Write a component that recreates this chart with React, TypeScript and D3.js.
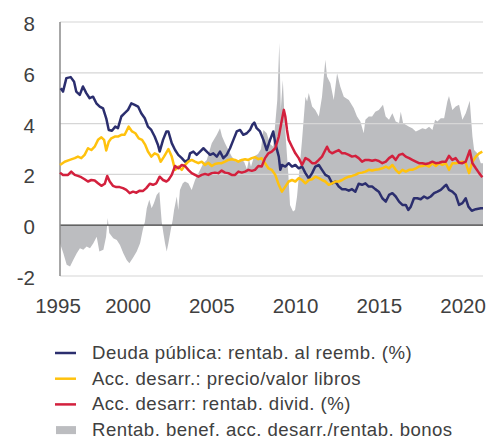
import React from 'react';
import * as d3 from 'd3';

// [year, value]
const deudaPublica: [number, number][] = [
  [1995.98, 5.39], [1996.12, 5.26], [1996.32, 5.79], [1996.58, 5.83], [1996.78, 5.65], [1996.91, 5.26],
  [1997.12, 5.13], [1997.31, 5.46], [1997.51, 5.2], [1997.71, 5.0], [1997.91, 5.06], [1998.11, 4.8],
  [1998.31, 4.67], [1998.51, 4.6], [1998.7, 4.21], [1998.85, 3.75], [1999.04, 3.72], [1999.24, 3.88],
  [1999.4, 3.82], [1999.6, 4.28], [1999.8, 4.41], [2000.0, 4.54], [2000.2, 4.8], [2000.4, 4.74],
  [2000.6, 4.67], [2000.79, 4.41], [2001.0, 4.21], [2001.19, 3.88], [2001.39, 3.75], [2001.59, 3.49],
  [2001.79, 3.16], [2001.89, 2.9], [2002.09, 3.36], [2002.29, 3.69], [2002.41, 3.69], [2002.61, 3.23],
  [2002.81, 2.96], [2003.0, 2.77], [2003.21, 2.64], [2003.4, 2.5], [2003.6, 2.57], [2003.7, 2.83],
  [2003.9, 2.9], [2004.1, 2.77], [2004.3, 2.9], [2004.5, 3.03], [2004.7, 2.9], [2004.9, 2.77],
  [2005.09, 2.83], [2005.3, 2.7], [2005.49, 2.9], [2005.69, 2.64], [2005.89, 2.77], [2006.09, 3.03],
  [2006.29, 3.36], [2006.49, 3.69], [2006.69, 3.75], [2006.88, 3.56], [2007.09, 3.62], [2007.28, 3.75],
  [2007.42, 3.95], [2007.54, 4.04], [2007.68, 3.82], [2007.88, 3.69], [2008.08, 3.36], [2008.28, 2.96],
  [2008.48, 3.36], [2008.67, 3.69], [2008.79, 3.23], [2009.0, 2.7], [2009.09, 2.18], [2009.19, 2.37],
  [2009.39, 2.31], [2009.59, 2.44], [2009.79, 2.31], [2009.99, 2.37], [2010.19, 2.24], [2010.39, 2.31],
  [2010.59, 2.05], [2010.79, 1.85], [2010.99, 2.05], [2011.18, 2.31], [2011.39, 2.37], [2011.58, 2.18],
  [2011.78, 1.98], [2011.98, 1.91], [2012.18, 1.65], [2012.38, 1.72], [2012.58, 1.52], [2012.78, 1.42],
  [2012.97, 1.42], [2013.18, 1.36], [2013.37, 1.42], [2013.57, 1.32], [2013.77, 1.63], [2013.97, 1.59],
  [2014.17, 1.65], [2014.37, 1.52], [2014.57, 1.52], [2014.76, 1.42], [2014.97, 1.32], [2015.18, 1.06],
  [2015.39, 0.93], [2015.58, 1.19], [2015.78, 1.26], [2015.98, 1.13], [2016.18, 0.93], [2016.38, 0.8],
  [2016.58, 0.8], [2016.73, 0.6], [2016.88, 0.73], [2017.07, 1.06], [2017.27, 1.06], [2017.47, 1.02],
  [2017.67, 1.13], [2017.87, 1.06], [2018.07, 1.13], [2018.27, 1.26], [2018.47, 1.32], [2018.67, 1.39],
  [2018.87, 1.52], [2019.0, 1.59], [2019.16, 1.39], [2019.36, 1.32], [2019.56, 1.19], [2019.76, 0.8],
  [2019.96, 0.87], [2020.16, 1.06], [2020.32, 0.73], [2020.52, 0.57], [2020.76, 0.63], [2021.06, 0.67],
  [2021.19, 0.67],
];

const precioValorLibros: [number, number][] = [
  [1995.94, 2.37], [1996.22, 2.5], [1996.52, 2.57], [1996.82, 2.64], [1997.01, 2.7], [1997.21, 2.64],
  [1997.41, 2.77], [1997.61, 3.03], [1997.81, 2.96], [1998.01, 3.09], [1998.21, 3.36], [1998.41, 3.46],
  [1998.57, 3.36], [1998.7, 2.94], [1998.85, 3.29], [1999.0, 3.42], [1999.21, 3.49], [1999.4, 3.49],
  [1999.6, 3.56], [1999.8, 3.56], [2000.04, 3.88], [2000.24, 3.69], [2000.44, 3.62], [2000.64, 3.42],
  [2000.84, 3.36], [2001.03, 3.16], [2001.19, 2.9], [2001.39, 2.7], [2001.59, 2.83], [2001.79, 2.77],
  [2001.95, 2.5], [2002.15, 2.7], [2002.28, 2.85], [2002.41, 3.0], [2002.61, 2.7], [2002.81, 2.18],
  [2003.0, 2.31], [2003.21, 2.18], [2003.4, 2.37], [2003.6, 2.5], [2003.8, 2.57], [2004.0, 2.5],
  [2004.2, 2.44], [2004.4, 2.5], [2004.6, 2.37], [2004.79, 2.46], [2005.0, 2.33], [2005.19, 2.41],
  [2005.39, 2.44], [2005.59, 2.44], [2005.79, 2.5], [2005.99, 2.57], [2006.19, 2.6], [2006.39, 2.57],
  [2006.59, 2.5], [2006.79, 2.57], [2006.99, 2.6], [2007.18, 2.57], [2007.39, 2.64], [2007.58, 2.68],
  [2007.78, 2.6], [2007.98, 2.64], [2008.18, 2.44], [2008.38, 2.24], [2008.58, 2.18], [2008.79, 1.98],
  [2009.0, 1.59], [2009.19, 1.32], [2009.39, 1.52], [2009.59, 1.72], [2009.79, 1.78], [2009.99, 1.72],
  [2010.19, 1.85], [2010.39, 1.78], [2010.59, 1.65], [2010.79, 1.78], [2010.99, 1.81], [2011.18, 1.91],
  [2011.39, 1.85], [2011.58, 1.78], [2011.78, 1.72], [2011.98, 1.59], [2012.18, 1.65], [2012.38, 1.72],
  [2012.58, 1.72], [2012.78, 1.78], [2012.97, 1.85], [2013.18, 1.91], [2013.37, 1.94], [2013.57, 1.98],
  [2013.77, 2.05], [2013.97, 2.07], [2014.17, 2.11], [2014.37, 2.18], [2014.57, 2.15], [2014.76, 2.18],
  [2014.97, 2.2], [2015.18, 2.24], [2015.39, 2.31], [2015.58, 2.24], [2015.78, 2.37], [2015.98, 2.18],
  [2016.18, 2.05], [2016.38, 2.18], [2016.58, 2.11], [2016.78, 2.18], [2016.97, 2.18], [2017.18, 2.24],
  [2017.37, 2.31], [2017.57, 2.33], [2017.77, 2.37], [2017.97, 2.31], [2018.17, 2.44], [2018.37, 2.33],
  [2018.57, 2.44], [2018.76, 2.37], [2018.97, 2.44], [2019.16, 2.18], [2019.36, 2.44], [2019.56, 2.44],
  [2019.76, 2.46], [2019.96, 2.5], [2020.16, 2.44], [2020.36, 2.05], [2020.56, 2.5], [2020.76, 2.7],
  [2020.96, 2.83], [2021.15, 2.9],
];

const rentabDivid: [number, number][] = [
  [1995.94, 2.07], [1996.12, 1.98], [1996.42, 1.98], [1996.61, 2.11], [1996.82, 1.98], [1997.01, 1.94],
  [1997.21, 1.89], [1997.41, 1.81], [1997.61, 1.72], [1997.81, 1.78], [1998.01, 1.76], [1998.21, 1.65],
  [1998.41, 1.55], [1998.61, 1.63], [1998.76, 1.94], [1998.91, 1.72], [1999.1, 1.55], [1999.3, 1.5],
  [1999.5, 1.5], [1999.7, 1.46], [1999.9, 1.39], [2000.1, 1.26], [2000.3, 1.32], [2000.5, 1.28],
  [2000.7, 1.36], [2000.9, 1.35], [2001.09, 1.46], [2001.3, 1.63], [2001.49, 1.59], [2001.69, 1.65],
  [2001.89, 1.91], [2002.09, 1.78], [2002.29, 1.72], [2002.41, 1.78], [2002.61, 1.98], [2002.81, 2.33],
  [2003.0, 2.24], [2003.21, 2.37], [2003.4, 2.33], [2003.6, 2.18], [2003.8, 2.05], [2004.0, 1.98],
  [2004.2, 1.91], [2004.4, 1.98], [2004.6, 2.02], [2004.79, 1.98], [2005.0, 2.05], [2005.19, 2.07],
  [2005.39, 2.05], [2005.59, 2.15], [2005.79, 2.07], [2005.99, 2.05], [2006.19, 1.98], [2006.39, 1.98],
  [2006.59, 2.11], [2006.79, 2.07], [2006.99, 2.11], [2007.18, 2.18], [2007.39, 2.14], [2007.58, 2.18],
  [2007.78, 2.33], [2007.98, 2.31], [2008.18, 2.64], [2008.38, 2.83], [2008.58, 2.9], [2008.79, 3.03],
  [2009.0, 3.49], [2009.15, 4.02], [2009.3, 4.54], [2009.39, 4.28], [2009.49, 3.75], [2009.59, 3.36],
  [2009.79, 3.09], [2009.99, 2.83], [2010.19, 2.64], [2010.39, 2.37], [2010.59, 2.64], [2010.79, 2.57],
  [2010.99, 2.44], [2011.18, 2.44], [2011.39, 2.57], [2011.58, 2.7], [2011.78, 2.96], [2011.88, 3.09],
  [2012.02, 2.9], [2012.18, 2.83], [2012.38, 2.9], [2012.58, 2.96], [2012.78, 2.83], [2012.97, 2.83],
  [2013.18, 2.77], [2013.37, 2.7], [2013.57, 2.73], [2013.77, 2.64], [2013.97, 2.5], [2014.17, 2.57],
  [2014.37, 2.57], [2014.57, 2.54], [2014.76, 2.57], [2014.97, 2.53], [2015.18, 2.44], [2015.39, 2.5],
  [2015.58, 2.64], [2015.78, 2.73], [2015.98, 2.57], [2016.18, 2.77], [2016.38, 2.81], [2016.58, 2.7],
  [2016.78, 2.64], [2016.97, 2.57], [2017.18, 2.5], [2017.37, 2.44], [2017.57, 2.44], [2017.77, 2.41],
  [2017.97, 2.44], [2018.17, 2.5], [2018.37, 2.44], [2018.57, 2.46], [2018.76, 2.5], [2018.97, 2.5],
  [2019.16, 2.73], [2019.36, 2.57], [2019.56, 2.64], [2019.76, 2.46], [2019.96, 2.44], [2020.16, 2.5],
  [2020.4, 2.94], [2020.56, 2.44], [2020.76, 2.24], [2020.96, 2.05], [2021.15, 1.89],
];

const benefBonos: [number, number][] = [
  [1995.94, -0.71], [1996.14, -1.1], [1996.34, -1.56], [1996.54, -1.63], [1996.73, -1.37], [1996.94, -1.1],
  [1997.13, -0.91], [1997.33, -0.97], [1997.53, -0.84], [1997.73, -0.91], [1997.93, -0.71], [1998.13, -0.45],
  [1998.29, -1.04], [1998.53, -0.97], [1998.69, -0.45], [1998.79, 0.28], [1998.88, -0.31], [1999.12, -0.51],
  [1999.33, -0.58], [1999.52, -0.78], [1999.72, -1.1], [1999.92, -1.37], [2000.08, -1.5], [2000.28, -1.3],
  [2000.52, -1.04], [2000.72, -0.71], [2000.88, -0.19], [2001.01, 0.14], [2001.12, 0.67], [2001.27, 1.0],
  [2001.41, 0.67], [2001.55, 0.87], [2001.71, 1.19], [2001.87, 1.32], [2002.01, 0.14], [2002.11, -0.31],
  [2002.21, -0.71], [2002.31, -1.04], [2002.41, -0.71], [2002.55, -0.19], [2002.67, 0.21], [2002.75, 0.6],
  [2002.91, 1.13], [2003.0, 0.6], [2003.1, 1.39], [2003.27, 1.65], [2003.4, 1.72], [2003.6, 1.65],
  [2003.8, 1.39], [2004.0, 1.78], [2004.2, 2.05], [2004.5, 2.44], [2004.7, 2.57], [2005.0, 3.23],
  [2005.3, 3.56], [2005.49, 3.82], [2005.61, 3.5], [2005.79, 3.23], [2006.19, 2.7], [2006.45, 2.5],
  [2006.69, 2.6], [2006.93, 2.5], [2007.1, 2.2], [2007.22, 2.6], [2007.34, 2.3], [2007.52, 2.7],
  [2007.76, 2.8], [2007.94, 3.0], [2008.08, 3.75], [2008.28, 3.62], [2008.48, 3.2], [2008.67, 3.09],
  [2008.91, 4.93], [2009.03, 7.17], [2009.12, 4.54], [2009.24, 5.72], [2009.37, 3.88], [2009.57, 2.0],
  [2009.67, 0.8], [2009.85, 0.54], [2009.97, 0.6], [2010.09, 1.13], [2010.39, 3.36], [2010.59, 5.06],
  [2010.69, 4.87], [2010.79, 5.2], [2010.99, 4.67], [2011.18, 4.54], [2011.39, 4.28], [2011.58, 5.06],
  [2011.78, 6.51], [2011.88, 5.85], [2012.08, 5.59], [2012.28, 4.93], [2012.48, 5.98], [2012.67, 5.46],
  [2012.88, 5.06], [2013.18, 4.93], [2013.47, 4.61], [2013.67, 4.28], [2013.87, 4.08], [2014.07, 3.62],
  [2014.17, 4.15], [2014.37, 4.28], [2014.57, 4.28], [2014.76, 4.47], [2014.97, 4.54], [2015.22, 4.74],
  [2015.38, 4.28], [2015.58, 4.15], [2015.78, 4.41], [2015.98, 4.08], [2016.18, 4.02], [2016.28, 4.47],
  [2016.42, 4.02], [2016.58, 3.95], [2016.78, 3.88], [2016.97, 3.82], [2017.18, 3.69], [2017.37, 3.75],
  [2017.57, 3.82], [2017.77, 3.78], [2017.97, 3.88], [2018.17, 3.75], [2018.33, 4.15], [2018.47, 4.08],
  [2018.67, 4.21], [2018.87, 4.21], [2019.06, 4.87], [2019.16, 5.09], [2019.36, 4.54], [2019.56, 4.67],
  [2019.76, 4.74], [2019.96, 4.15], [2020.16, 4.41], [2020.4, 4.9], [2020.56, 3.49], [2020.66, 2.96],
  [2020.85, 2.83], [2021.06, 2.44], [2021.19, 2.44],
];

const yTicks = [-2, 0, 2, 4, 6, 8];
const xTickYears = [1995, 2000, 2005, 2010, 2015, 2020];
const legendLabels = [
  'Deuda pública: rentab. al reemb. (%)',
  'Acc. desarr.: precio/valor libros',
  'Acc. desarr: rentab. divid. (%)',
  'Rentab. benef. acc. desarr./rentab. bonos',
];

const W = 489;
const H = 439;
const FONT = '"Liberation Sans", Arial, sans-serif';
const colors = { navy: '#2b2e6e', yellow: '#ffc20e', red: '#d3203d', gray: '#bcbdc0' };

export default function App() {
  const start = 1995.94;
  const end = 2021.19;
  const x = d3.scaleLinear().domain([start, end]).range([60, 483]);
  const y = d3.scaleLinear().domain([-2, 8]).range([276, 22]);

  const line = d3.line<[number, number]>().x(d => x(d[0])).y(d => y(d[1]));
  const area = d3.area<[number, number]>().x(d => x(d[0])).y0(y(0)).y1(d => y(d[1]));

  const series = [
    { data: deudaPublica, color: colors.navy },
    { data: precioValorLibros, color: colors.yellow },
    { data: rentabDivid, color: colors.red },
  ];

  return (
    <svg width={W} height={H} style={{ position: 'absolute', left: 0, top: 0, fontFamily: FONT }}>
      <path d={area(benefBonos) || ''} fill={colors.gray} />
      {yTicks.filter(t => t !== 0).map(t => (
        <line key={t} x1={60} x2={483} y1={y(t)} y2={y(t)} stroke="#d6d6d6" strokeWidth={1.2} />
      ))}
      <line x1={60} x2={483} y1={y(0)} y2={y(0)} stroke="#3f3f3f" strokeWidth={1.2} />
      <line x1={60} x2={60} y1={y(8)} y2={y(-2)} stroke="#8a8a8a" strokeWidth={1.5} />
      {series.map((s, i) => (
        <path key={i} d={line(s.data) || ''} fill="none" stroke={s.color} strokeWidth={2.5} strokeLinejoin="round" />
      ))}
      {yTicks.map(t => (
        <text key={t} x={35} y={y(t) + 9} textAnchor="end" fontSize={20.5} fill="#404040">{t}</text>
      ))}
      {xTickYears.map(yr => (
        <text key={yr} x={x(Math.max(yr, start)) - (yr < start ? 2 : 0)} y={313} textAnchor="middle" fontSize={20.5} fill="#404040">{yr}</text>
      ))}
      {legendLabels.map((lbl, i) => {
        const cy = 353 + i * 25.7;
        return (
          <g key={lbl}>
            {i < 3 ? (
              <line x1={55} x2={76} y1={cy} y2={cy} stroke={[colors.navy, colors.yellow, colors.red][i]} strokeWidth={2.5} />
            ) : (
              <rect x={56} y={cy - 4} width={20} height={8} fill={colors.gray} />
            )}
            <text x={92} y={cy + 6} fontSize={18.6} letterSpacing={0.45} fill="#404040">{lbl}</text>
          </g>
        );
      })}
    </svg>
  );
}
